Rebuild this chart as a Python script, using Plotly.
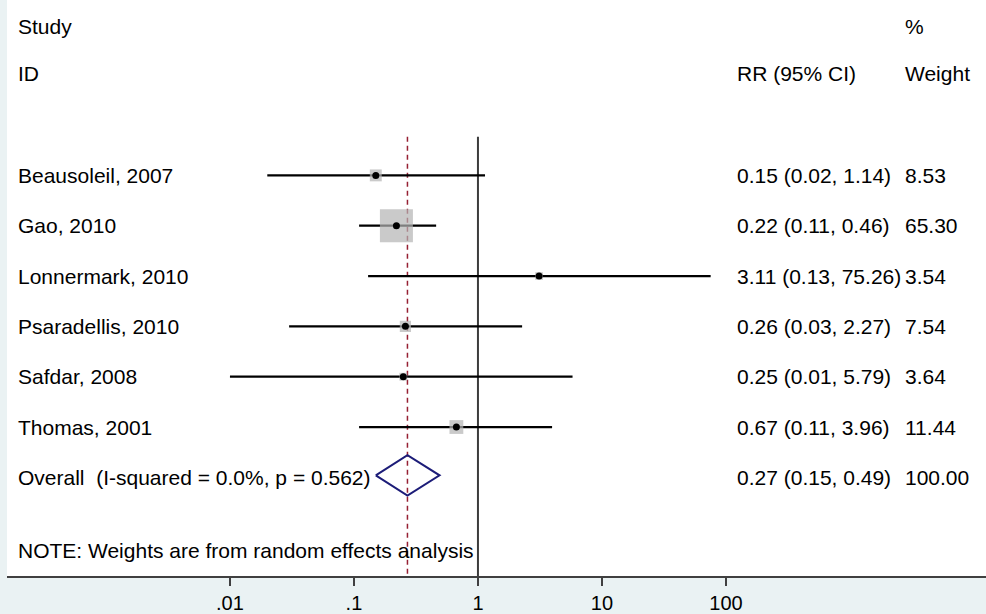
import plotly.graph_objects as go
import math

studies = ["Beausoleil, 2007", "Gao, 2010", "Lonnermark, 2010", "Psaradellis, 2010", "Safdar, 2008", "Thomas, 2001"]
rr = [0.15, 0.22, 3.11, 0.26, 0.25, 0.67]
lo = [0.02, 0.11, 0.13, 0.03, 0.01, 0.11]
hi = [1.14, 0.46, 75.26, 2.27, 5.79, 3.96]
weights = [8.53, 65.30, 3.54, 7.54, 3.64, 11.44]
ci_text = ["0.15 (0.02, 1.14)", "0.22 (0.11, 0.46)", "3.11 (0.13, 75.26)", "0.26 (0.03, 2.27)", "0.25 (0.01, 5.79)", "0.67 (0.11, 3.96)"]
w_text = ["8.53", "65.30", "3.54", "7.54", "3.64", "11.44"]

overall_label = "Overall\u00a0\u00a0(I-squared = 0.0%, p = 0.562)"
overall_rr, overall_lo, overall_hi = 0.27, 0.15, 0.49
overall_ci_text = "0.27 (0.15, 0.49)"
overall_w_text = "100.00"
note = "NOTE: Weights are from random effects analysis"

tickvals = [0.01, 0.1, 1, 10, 100]
ticktext = [".01", ".1", "1", "10", "100"]
null_value = 1

rows = list(range(1, len(studies) + 1))
overall_row = len(studies) + 1

FONT = "Liberation Sans, Arial, sans-serif"
FS = 21
BG = "#EAF2F3"

fig = go.Figure()

# CI lines
cx, cy = [], []
for r, l, h in zip(rows, lo, hi):
    cx += [l, h, None]
    cy += [r, r, None]
fig.add_trace(go.Scatter(x=cx, y=cy, mode="lines", line=dict(color="black", width=2.2), hoverinfo="skip"))

# weight squares
maxw = max(weights)
sizes = [33 * math.sqrt(w / maxw) for w in weights]
fig.add_trace(go.Scatter(x=rr, y=rows, mode="markers",
                         marker=dict(symbol="square", size=sizes, color="#B4B4B4", line=dict(width=0))))
# point estimates
fig.add_trace(go.Scatter(x=rr, y=rows, mode="markers",
                         marker=dict(symbol="circle", size=7, color="black")))

# overall diamond
h = 0.4
yc = overall_row - 0.04
fig.add_trace(go.Scatter(
    x=[overall_lo, overall_rr, overall_hi, overall_rr, overall_lo],
    y=[yc, yc - h, yc, yc + h, yc],
    mode="lines", line=dict(color="#1C1C78", width=2)))

y_top, y_bot = -2.485, 8.96
line_top = 0.23

# null line
fig.add_shape(type="line", xref="x", x0=null_value, x1=null_value, yref="y", y0=line_top, y1=y_bot,
              line=dict(color="#3C3C3C", width=2), layer="below")
# overall dashed line
fig.add_shape(type="line", xref="x", x0=overall_rr, x1=overall_rr, yref="y",
              y0=line_top, y1=y_bot, line=dict(color="#962033", width=1.5, dash="5px,4px"), layer="below")

xl, xc, xw = 0.0092, 0.7436, 0.9152

def txt(x, y, s):
    fig.add_annotation(x=x, y=y, xref="paper", yref="y", text=s, showarrow=False,
                       xanchor="left", yanchor="middle", font=dict(family=FONT, size=FS, color="black"))

txt(xl, -1.95, "Study")
txt(xl, -1.02, "ID")
txt(xc, -1.02, "RR (95% CI)")
txt(xw, -1.95, "%")
txt(xw, -1.02, "Weight")
for r, s, c, w in zip(rows, studies, ci_text, w_text):
    txt(xl, r, s)
    txt(xc, r, c)
    txt(xw, r, w)
txt(xl, overall_row, overall_label)
txt(xc, overall_row, overall_ci_text)
txt(xw, overall_row, overall_w_text)
txt(xl, 8.45, note)

fig.update_layout(
    width=986, height=614,
    margin=dict(l=7, r=0, t=0, b=36),
    paper_bgcolor=BG, plot_bgcolor="white",
    showlegend=False,
    xaxis=dict(type="log", range=[-3.798, 4.097], tickvals=tickvals, ticktext=ticktext,
               ticks="outside", ticklen=8, tickwidth=1.5, tickcolor="#404040",
               showline=True, linecolor="#404040", linewidth=2, showgrid=False, zeroline=False,
               tickfont=dict(family=FONT, size=20, color="black")),
    yaxis=dict(range=[y_bot, y_top], showticklabels=False, showgrid=False, zeroline=False,
               showline=False, ticks=""),
)

fig.write_html("out.html")
